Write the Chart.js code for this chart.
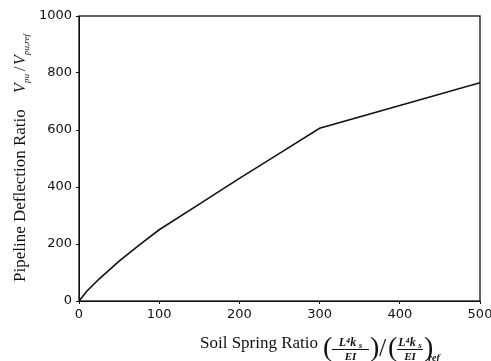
<!DOCTYPE html>
<html>
<head>
<meta charset="utf-8">
<script src="https://cdn.jsdelivr.net/npm/chart.js@4.4.0/dist/chart.umd.min.js"></script>
<style>
  html, body { margin: 0; padding: 0; background: #fff; }
  #wrap { width: 491px; height: 361px; }
</style>
</head>
<body>
<div id="wrap"><canvas id="myChart" width="491" height="361"></canvas></div>
<script>
// values
const springRatio = [0, 10, 25, 50, 75, 100, 150, 200, 250, 300, 400, 500];
const deflRatio   = [0, 35, 77, 140, 196, 250, 340, 430, 518, 606, 686, 766];
const xTicks = [0, 100, 200, 300, 400, 500];
const yTicks = [0, 200, 400, 600, 800, 1000];

const serif = '"Liberation Serif", "DejaVu Serif", serif';

// frame + axis titles (titles include a small fraction, so drawn by hand)
const titles = {
  id: 'titles',
  afterDraw(chart) {
    const c = chart.ctx, a = chart.chartArea;
    c.save();
    c.strokeStyle = '#111';
    c.lineWidth = 1.3;
    c.strokeRect(a.left, a.top, a.right - a.left, a.bottom - a.top);
    c.fillStyle = '#111';

    // x title
    c.textBaseline = 'alphabetic';
    c.textAlign = 'left';
    c.font = '17px ' + serif;
    c.fillText('Soil Spring Ratio', 200, 348);

    const frac = (x0, x1) => {
      const mid = (x0 + x1) / 2;
      c.font = '28px ' + serif;
      c.textAlign = 'left';
      c.fillText('(', x0 - 9, 356);
      c.fillText(')', x1 + 1, 356);
      c.textAlign = 'center';
      c.font = 'bold italic 12px ' + serif;
      c.fillText('L\u2074k', mid - 3, 346);
      c.font = 'bold italic 9px ' + serif;
      c.fillText('s', mid + 10, 348);
      c.font = 'bold italic 11px ' + serif;
      c.fillText('EI', mid, 360);
      c.beginPath(); c.moveTo(x0, 349.5); c.lineTo(x1, 349.5); c.lineWidth = 1; c.stroke();
    };
    frac(332, 369);
    c.font = '26px ' + serif;
    c.textAlign = 'left';
    c.fillText('/', 379, 356);
    frac(397, 423);
    c.font = 'bold italic 10px ' + serif;
    c.fillText('ref', 434, 361);

    // y title
    c.save();
    c.translate(25, 282);
    c.rotate(-Math.PI / 2);
    c.textAlign = 'left';
    c.font = '17px ' + serif;
    c.fillText('Pipeline Deflection Ratio', 0, 0);
    let x = 189;
    c.font = 'italic 16px ' + serif;
    c.fillText('V', x, 0);
    c.font = 'italic 9px ' + serif;
    c.fillText('pu', x + 10, 4);
    c.font = '16px ' + serif;
    c.fillText('/', x + 22, 0);
    c.font = 'italic 16px ' + serif;
    c.fillText('V', x + 28, 0);
    c.font = 'italic 9px ' + serif;
    c.fillText('pu,ref', x + 38, 4);
    c.restore();
    c.restore();
  }
};

const ctx = document.getElementById('myChart');
new Chart(ctx, {
  type: 'scatter',
  data: {
    datasets: [{
      data: springRatio.map((x, i) => ({ x: x, y: deflRatio[i] })),
      showLine: true,
      borderColor: '#111',
      borderWidth: 1.6,
      pointRadius: 0,
      tension: 0,
      fill: false
    }]
  },
  options: {
    responsive: false,
    animation: false,
    layout: { padding: { left: 0, right: 11, top: 16, bottom: 0 } },
    plugins: { legend: { display: false }, tooltip: { enabled: false } },
    scales: {
      x: {
        type: 'linear', min: 0, max: 500,
        afterBuildTicks: s => { s.ticks = xTicks.map(v => ({ value: v })); },
        afterFit: s => { s.height = 60; s.paddingLeft = 0; s.paddingRight = 0; },
        grid: { drawOnChartArea: false, tickLength: 3, color: '#111' },
        border: { color: '#111' },
        ticks: { color: '#111', font: { family: 'DejaVu Sans', size: 13 }, padding: 3, maxRotation: 0,
                 callback: v => String(v) }
      },
      y: {
        type: 'linear', min: 0, max: 1000,
        afterBuildTicks: s => { s.ticks = yTicks.map(v => ({ value: v })); },
        afterFit: s => { s.width = 79; s.paddingTop = 0; s.paddingBottom = 0; },
        grid: { drawOnChartArea: false, tickLength: 3, color: '#111' },
        border: { color: '#111' },
        ticks: { color: '#111', font: { family: 'DejaVu Sans', size: 13 }, padding: 4,
                 callback: v => String(v) }
      }
    }
  },
  plugins: [titles]
});
</script>
</body>
</html>
